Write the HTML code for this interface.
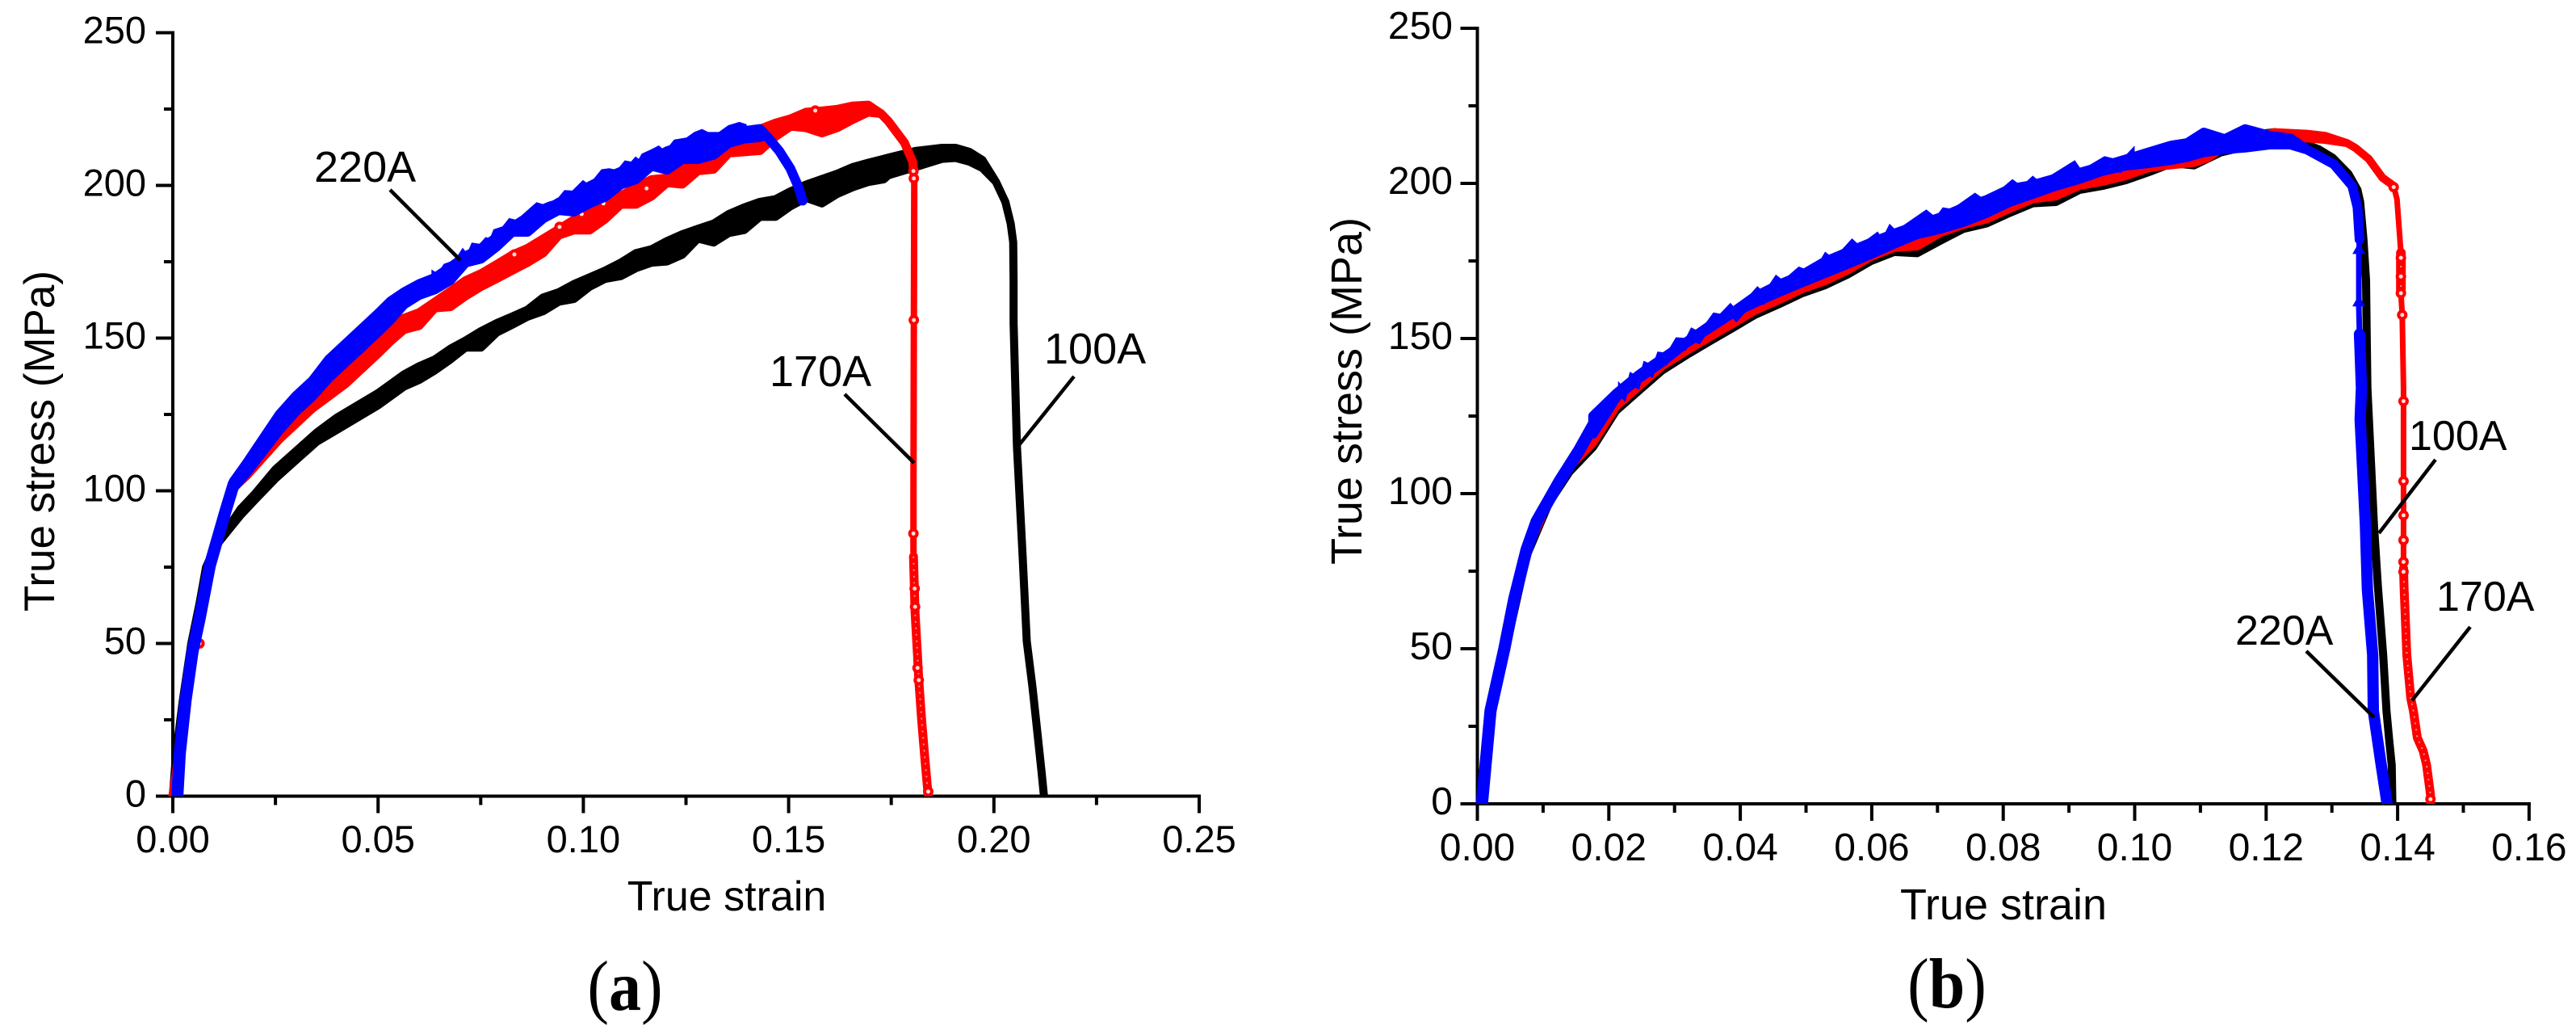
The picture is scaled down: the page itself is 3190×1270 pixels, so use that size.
<!DOCTYPE html>
<html lang="en">
<head>
<meta charset="utf-8">
<title>True stress vs true strain</title>
<style>
html,body{margin:0;padding:0;background:#fff;width:3190px;height:1270px;overflow:hidden}
svg{display:block}
text{font-family:"Liberation Sans",Arial,sans-serif;fill:#000}
.cap{font-family:"Liberation Serif","Times New Roman",serif;font-size:80px}
.lead{stroke:#000;stroke-width:4.5;fill:none}
</style>
</head>
<body>
<svg id="chart" width="3190" height="1270" viewBox="0 0 3190 1270" xmlns="http://www.w3.org/2000/svg">
  <defs>
    <clipPath id="clipA"><rect x="208" y="20" width="1290" height="965.5"/></clipPath>
    <clipPath id="clipB"><rect x="1824" y="15" width="1320" height="980"/></clipPath>
  </defs>
  <g id="axesA"></g>
  <g id="axesB"></g>
  <g id="plotA" clip-path="url(#clipA)"></g>
  <g id="plotB" clip-path="url(#clipB)"></g>

  <g>
    <text x="389" y="225" font-size="54">220A</text>
    <line class="lead" x1="483" y1="235" x2="570" y2="322"/>
    <text x="953" y="478" font-size="54">170A</text>
    <line class="lead" x1="1046" y1="488" x2="1132" y2="573"/>
    <text x="1293" y="450" font-size="54">100A</text>
    <line class="lead" x1="1330" y1="466" x2="1261" y2="552"/>
    <text x="900" y="1127" font-size="52" text-anchor="middle">True strain</text>
    <text x="0" y="0" font-size="53" text-anchor="middle" transform="translate(67 546) rotate(-90)">True stress (MPa)</text>
    <text class="cap" x="0" y="0" text-anchor="middle" transform="translate(774 1250) scale(1 1.1)">(<tspan font-weight="bold">a</tspan>)</text>
  </g>
  <g>
    <text x="2983" y="557" font-size="52">100A</text>
    <line class="lead" x1="3016" y1="569" x2="2946" y2="660"/>
    <text x="3017" y="756" font-size="52">170A</text>
    <line class="lead" x1="3059" y1="776" x2="2987" y2="867"/>
    <text x="2768" y="798" font-size="52">220A</text>
    <line class="lead" x1="2856" y1="806" x2="2940" y2="888"/>
    <text x="2481" y="1138" font-size="54" text-anchor="middle">True strain</text>
    <text x="0" y="0" font-size="54" text-anchor="middle" transform="translate(1686 484) rotate(-90)">True stress (MPa)</text>
    <text class="cap" x="0" y="0" text-anchor="middle" transform="translate(2411 1247) scale(1 1.1)">(<tspan font-weight="bold">b</tspan>)</text>
  </g>
</svg>
<script>
// ---------- tick labels ----------
const aXTicks = ["0.00","0.05","0.10","0.15","0.20","0.25"];
const bXTicks = ["0.00","0.02","0.04","0.06","0.08","0.10","0.12","0.14","0.16"];
const yTicks = ["0","50","100","150","200","250"];

// ---------- panel (a) 100A ----------
const aStrain100 = [0,.0008,.0024,.0045,.0065,.0081,.0105,.0135,.0165,.02,.025,.03,.035,.04,.045,.05,.0563,.06,.0638,.0676,.0713,.0751,.0789,.0827,.0864,.0902,.094,.0977,.1015,.1053,.1091,.1128,.1166,.1204,.1241,.1279,.1317,.1354,.1392,.143,.1468,.1505,.1543,.1581,.1618,.1656,.1694,.1732,.1743,.1809,.1874,.1907,.194,.1972,.2005,.2028,.2041,.2047,.2048,.2048,.2056,.207,.208,.2094,.2106,.2116,.2122];
const aHigh100 = [0,14,31,50,63,75,82,88,94,99,107,113,119,124,128,132,138.1,140.8,143,146.5,149.2,152.3,154.9,157.1,159.3,163.3,165,167.7,169.9,172.1,174.7,177.8,179.1,181.8,184,185.8,187.5,190.6,192.8,194.6,195.5,198.1,200.3,202.1,203.8,206,207.4,208.7,209.1,211.3,212.3,212.3,211,208.3,201.2,194.6,187.5,181.4,168.1,154.9,114.8,78.5,50.7,35.7,20.7,8,0];
const aLow100 = [0,14,31,50,63,75,82,87,92,97,104,110,116,120,124,128,134.1,136.3,139.4,143,146.9,146.9,151.8,154.4,157,158.8,161.9,162.8,166.8,169.4,170.3,172.9,174.7,175.1,177.3,182.6,181.3,184.4,185.4,189.7,189.7,193.2,195.9,194.1,197.2,199.4,201.1,202,203.3,206,208.7,209,207.8,205.7,201.2,194.6,187.5,181.4,168.1,154.9,114.8,78.5,50.7,35.7,20.7,8,0];

// ---------- panel (a) 170A ----------
const aStrain170 = [0,.0015,.0031,.0048,.0065,.009,.0128,.0148,.018,.022,.026,.03,.034,.038,.042,.046,.05,.053,.0563,.06,.0638,.0676,.0713,.0751,.0789,.0827,.0864,.0902,.094,.0977,.1015,.1053,.1091,.1128,.1166,.1204,.1241,.1279,.1317,.1354,.1392,.143,.1468,.1505,.1543,.1581,.1618,.1656,.1694,.1725,.1743,.1782,.1802,.1805];
const aHigh170 = [0,14,31,47,58,75.5,93,101,107,114,120,125,131,135,140,145,149,153,156.5,158.3,161.8,165.3,168.8,171.1,174.1,177.2,179.4,182.5,185.6,188.7,191.8,194.4,196.6,199.3,201.9,202.4,205.4,207.2,207.7,213,216,218.4,220.4,221.8,224,224.4,224.9,226,226.3,223.5,221,214,207.8,204.4];
const aLow170 = [0,14,31,47,58,75.5,93,101,105,111,117,122,127,131,135,140,145,149,152.8,154.1,159.9,160.3,163.8,166.9,169.5,172.2,174.8,177.9,183.7,185.4,185.4,189,193.8,193.8,196.5,200.9,200.4,204.8,205.3,210.6,211,211.4,216,219.4,218.9,217.2,218.9,221.6,224,223.5,221,214,207.8,204.4];
const aThinStrain170 = [.1805,.1806,.1805,.1804,.1804];
const aThinStress170 = [204.4,201,155.8,100,80];
const aDenseStrain170 = [.1804,.1808,.1814,.1817,.1824,.1832,.184];
const aDenseStress170 = [78.5,60,46,38,25,12,0];
const aMarkStrain170 = [.0065,.0832,.0942,.0996,.1049,.1154,.1565,.1804,.1805,.1805,.1804,.1807,.1808,.1814,.1817,.184];
const aMarkStress170 = [50,177.4,186.4,190.6,194.1,199,224.5,204.7,202.3,155.9,86,68,62,42,38,1.5];

// ---------- panel (a) 220A ----------
const aEarlyStrain220 = [.0011,.0017,.0031,.0048,.0065,.009,.0128,.0148];
const aEarlyStress220 = [0,13.9,31.4,47.3,57.9,75.5,93.2,102];
const aStrain220 = [.0148,.018,.022,.026,.03,.034,.038,.042,.046,.05,.053,.0563,.06,.0638,.0676,.0713,.0751,.0789,.0827,.0864,.0902,.094,.0977,.1015,.1053,.1091,.1128,.1166,.1204,.1241,.1279,.1317,.1354,.1392,.143,.1444,.1477,.1504,.1523,.1534];
const aHigh220 = [103,109,117,125,131,136,143,148,153,158,162,165,167.7,169.7,173.2,176.8,179.4,182.9,185.6,189.5,191.3,194.4,196.2,199.7,202.3,204.5,206.7,208.5,211.2,212.9,215.1,214.7,216.4,217.8,218.5,216.6,211.3,205.6,199.8,195];
const aLow220 = [101,106,113,120,126,131,137,142,147,152,156,161,164.1,165.9,169,174.7,176,180,184.8,184.8,189.2,191.9,191.4,194.1,196.3,200.3,202,206.4,205.1,208.6,208.6,210,213.9,215.3,215.8,216.6,211.3,205.6,199.8,195];
const aTeethStrain220 = [.063,.0645,.066,.0687,.0706,.0717,.0728,.0747,.0762,.0772,.0781,.0803,.0819,.0834,.0849,.0868,.0886,.0901,.0916,.0935,.0954,.0973,.0999,.1014,.1044,.1063,.1082,.1101,.1116,.1127,.1135,.1142,.1165,.1184,.1199,.1221,.1251,.127,.1289,.1304,.133,.1353,.138,.1398];
const aTeethStress220 = [172.5,171.2,174.3,175.6,179.6,177.8,181.3,180.9,183.1,182.6,185.6,186.6,189.3,188.8,190.1,192.4,194.5,193.9,194.7,195.4,198.5,198.3,201.8,200.3,205.3,205.6,205.1,208.2,207.8,209.5,208.7,210.4,211.8,213.1,211.3,215,215.7,217.5,218.5,217.5,217.5,219.7,220.8,220];

// ---------- panel (b) 100A ----------
const bStrain100 = [.0008,.002,.0041,.0075,.0109,.014,.0176,.0211,.0246,.0281,.0317,.0352,.0387,.0422,.0458,.0493,.0528,.0563,.0598,.0634,.0669,.0704,.0739,.0775,.081,.0845,.088,.0916,.0951,.0986,.1021,.1057,.109,.1131,.1172,.1213,.128,.1301,.1325,.1339,.1343,.1348,.1352,.1353,.1354,.1364,.137,.1378,.1383,.1387,.1391,.1392];
const bHigh100 = [0,28,48,80,97,107,118.5,130.2,136.7,143.2,148,152.4,156.7,161.1,164.5,168,170.6,174.1,178.4,181.4,181,185,188.8,190.6,194,197.1,197.5,201.4,202.7,204.5,207.1,210,209.3,213.5,215.5,216.5,211,208.3,203.1,197.9,194,181.9,168.8,151.5,134,90,70,48,30,21,12.5,0];
const bLow100 = [0,28,48,80,97,107,115,126.7,133.2,139.7,144.5,148.9,153.2,157.6,161,164.5,167.1,170.6,174.9,177.9,177.5,181.5,185.3,187.1,190.5,193.6,194,197.9,199.2,201,203.6,206.5,205.8,210,212,213,211,208.3,203.1,197.9,194,181.9,168.8,151.5,134,90,70,48,30,21,12.5,0];

// ---------- panel (b) 170A ----------
const bStrain170 = [.0005,.002,.0041,.0075,.0109,.014,.0176,.0211,.0246,.0281,.0317,.0352,.0387,.0422,.0458,.0493,.0528,.0563,.0598,.0634,.0669,.0704,.0739,.0775,.081,.0845,.088,.0916,.0951,.0986,.1021,.1049,.109,.111,.1131,.1172,.1213,.1262,.129,.1323,.1336,.1356,.1377,.1394];
const bHigh170 = [0,30,50,81,98,110,118,129.5,136,142.5,147.3,151.7,156,160.4,163.8,167.3,169.9,173.4,177.7,180.7,181.2,185.5,188.1,189.9,193.3,196.4,197.3,200.7,202,203.8,206.4,207.2,208.1,209.5,212.5,214.5,216.5,216,215.3,213,211.4,207.9,201.8,199.2];
const bLow170 = [0,30,50,81,98,108.5,116.3,128,134.5,141,145.8,150.2,154.5,158.9,162.3,165.8,168.4,171.9,176.2,179.2,179.7,184,186.6,188.4,191.8,194.9,195.8,199.2,200.5,202.3,204.9,205.7,206.6,208,211,212.8,213.5,214.5,214,213,211.4,207.9,201.8,199.2];
const bThinStrain170a = [.1394,.1399,.1405];
const bThinStress170a = [199.2,194.9,177.6];
const bDenseStrain170a = [.1405,.1405];
const bDenseStress170a = [177.6,164.6];
const bThinStrain170b = [.1405,.1407,.1409,.1409];
const bThinStress170b = [164.6,157.6,134,76];
const bDenseStrain170b = [.1409,.141,.1414,.142,.1424,.143,.1439,.1444,.145,.145];
const bDenseStress170b = [76,69,48,34,30,21.3,17,12.6,3,0];
const bMarkStrain170 = [.1394,.1405,.1405,.1405,.1407,.1409,.1409,.1409,.1409,.1409,.1409,.145];
const bMarkStress170 = [198.8,176,170,164.6,157.6,129.8,104,93,85,78,74.8,1.5];

// ---------- panel (b) 220A ----------
const bEarlyStrain220 = [.0007,.002,.0041,.0056,.0075,.009,.0109,.0125,.014,.0155,.0176];
const bEarlyStress220 = [0,30,50,66,82,91,98,104,109,114,122];
const bStrain220 = [.0176,.0211,.0246,.0281,.0317,.0352,.0387,.0422,.0458,.0493,.0528,.0563,.0598,.0634,.0669,.0704,.0739,.0775,.081,.0845,.088,.0916,.0951,.0986,.1021,.1055,.108,.1105,.1137,.1168,.1205,.1237,.1262,.1303,.1331,.1339,.1342];
const bHigh220 = [125,132.2,138.3,143.5,148.7,153.9,158.2,163.5,167.3,170.4,174.7,177.8,180.8,183.8,186.4,189,192.1,194.7,198.2,199.5,201.6,203.4,205.5,207.7,210,212.2,213,216.4,214.3,217.5,215.4,214.5,210.9,206.2,199.2,192.3,181.9];
const bLow220 = [119.3,131,137.2,142.4,148.4,153.2,158,161.5,164.9,168,171,174,177.1,180.5,183.6,185.3,187.5,190.5,194,196.6,199.2,201.4,204,205.7,206.5,207.5,208.5,210,211,211.5,212.5,212.5,210.9,206.2,199.2,192.3,181.9];
const bTeethStrain220 = [.0214,.0225,.0232,.0246,.0253,.0267,.0274,.0288,.0302,.0317,.0325,.0338,.0359,.0369,.0385,.0394,.0426,.0436,.0454,.0465,.0489,.05,.051,.0517,.0529,.0542,.057,.0581,.0609,.0616,.0627,.0637,.0683,.0697,.0708,.0722,.0757,.0775,.0814,.0828,.0845,.0856,.0909,.0919,.0954,.0979,.1];
const bTeethStress220 = [136.3,133.7,139.3,137.6,142.8,141.5,145.8,145.4,150.4,150.2,153.6,152.3,158.4,158,161.5,159.3,166.9,164.9,170.6,168.8,173.2,172.3,174,173.6,178,175.8,182.3,180.1,184.5,182.3,187,184.9,191.6,189.2,192.3,191.8,197,194.4,201.4,199.2,202.5,200.5,207.5,204.4,208.8,207.5,212.2];
const bThinStrain220 = [.1342,.1341,.1341,.1342];
const bThinStress220 = [181.9,178,160,151.4];
const bLowerStrain220 = [.1342,.1345,.1343,.1351,.1354,.1362,.1363,.1375,.1384];
const bLowerStress220 = [151.4,134,124,90,69,48,30,12.5,0];
const bTriStrain220 = [.1341,.1341];
const bTriStress220 = [178.8,161.9];

// ---------- axis functions ----------
const xA = s => 214 + s * 5084;
const yA = v => 985.5 - v * 3.78;
const xB = s => 1829.5 + s * 8140;
const yB = v => 995 - v * 3.84;

const NS = 'http://www.w3.org/2000/svg';

function drawAxes(host, xf, yf, xLabels, xStep, yMax, fontSize, yLabelX, xLabelY, name) {
  const xMax = (xLabels.length - 1) * xStep;
  const line = (x1, y1, x2, y2, nm) => {
    const l = document.createElementNS(NS, 'line');
    l.setAttribute('x1', x1); l.setAttribute('y1', y1);
    l.setAttribute('x2', x2); l.setAttribute('y2', y2);
    l.setAttribute('stroke', '#000');
    l.setAttribute('stroke-width', 4);
    l.setAttribute('stroke-linecap', 'square');
    
    
    host.appendChild(l);
  };
  line(xf(0), yf(0), xf(xMax), yf(0), name + '-x-axis-line');
  line(xf(0), yf(0), xf(0), yf(yMax), name + '-y-axis-line');
  const x0 = xf(0), y0 = yf(0);
  xLabels.forEach((lab, i) => {
    const px = xf(i * xStep);
    line(px, y0, px, y0 + 19, name + '-x-tick-major');
    if (i < xLabels.length - 1) {
      const mx = xf((i + 0.5) * xStep);
      line(mx, y0, mx, y0 + 9, name + '-x-tick-minor');
    }
    const t = document.createElementNS(NS, 'text');
    t.textContent = lab;
    t.setAttribute('x', px);
    t.setAttribute('y', xLabelY);
    t.setAttribute('font-size', fontSize);
    t.setAttribute('text-anchor', 'middle');
    
    
    host.appendChild(t);
  });
  yTicks.forEach((lab, i) => {
    const v = Number(lab);
    const py = yf(v);
    line(x0 - 19, py, x0, py, name + '-y-tick-major');
    if (i < yTicks.length - 1) {
      const my = yf(v + 25);
      line(x0 - 9, my, x0, my, name + '-y-tick-minor');
    }
    const t = document.createElementNS(NS, 'text');
    t.textContent = lab;
    t.setAttribute('x', yLabelX);
    t.setAttribute('y', py + 13);
    t.setAttribute('font-size', fontSize);
    t.setAttribute('text-anchor', 'end');
    
    
    host.appendChild(t);
  });
}

function drawBand(host, xf, yf, strain, high, low, color, width, name, pink) {
  const up = strain.map((s, i) => xf(s).toFixed(1) + ' ' + yf(high[i]).toFixed(1));
  const dn = strain.map((s, i) => xf(s).toFixed(1) + ' ' + yf(low[i]).toFixed(1)).reverse();
  const p = document.createElementNS(NS, 'path');
  p.setAttribute('d', 'M' + up.concat(dn).join('L') + 'Z');
  p.setAttribute('fill', color);
  p.setAttribute('stroke', color);
  p.setAttribute('stroke-width', width);
  p.setAttribute('stroke-linejoin', 'round');
  
  
  host.appendChild(p);
  if (pink) {
    const q = document.createElementNS(NS, 'path');
    q.setAttribute('d', 'M' + up.join('L'));
    q.setAttribute('fill', 'none');
    q.setAttribute('stroke', '#ff8a8a');
    q.setAttribute('stroke-width', 2);
    q.setAttribute('stroke-dasharray', '2 6');
    
    
    host.appendChild(q);
  }
}

// Sawtooth upper edge: a thin filled strip hanging from the read-off edge values.
function drawTeeth(host, xf, yf, strain, stress, color, name) {
  const up = strain.map((s, i) => xf(s).toFixed(1) + ' ' + yf(stress[i]).toFixed(1));
  const dn = strain.map((s, i) => xf(s).toFixed(1) + ' ' + (yf(stress[i]) + 16).toFixed(1)).reverse();
  const p = document.createElementNS(NS, 'path');
  p.setAttribute('d', 'M' + up.concat(dn).join('L') + 'Z');
  p.setAttribute('fill', color);
  
  
  host.appendChild(p);
}

function drawMarkers(host, xf, yf, strain, stress, name) {
  strain.forEach((s, i) => {
    const c = document.createElementNS(NS, 'circle');
    c.setAttribute('cx', xf(s));
    c.setAttribute('cy', yf(stress[i]));
    c.setAttribute('r', 6.5);
    c.setAttribute('fill', '#f00');
    
    
    host.appendChild(c);
    const d = document.createElementNS(NS, 'circle');
    d.setAttribute('cx', xf(s));
    d.setAttribute('cy', yf(stress[i]));
    d.setAttribute('r', 2.5);
    d.setAttribute('fill', '#ffdcdc');
    
    
    host.appendChild(d);
  });
}

function drawTriangles(host, xf, yf, strain, stress, color, name) {
  strain.forEach((s, i) => {
    const x = xf(s), y = yf(stress[i]);
    const t = document.createElementNS(NS, 'polygon');
    t.setAttribute('points', (x - 8) + ',' + (y + 6) + ' ' + x + ',' + (y - 8) + ' ' + (x + 8) + ',' + (y + 6));
    t.setAttribute('fill', color);
    
    
    host.appendChild(t);
  });
}

const axesA = document.getElementById('axesA');
const axesB = document.getElementById('axesB');
const plotA = document.getElementById('plotA');
const plotB = document.getElementById('plotB');

drawAxes(axesA, xA, yA, aXTicks, 0.05, 250, 47, 181, 1055, 'panel-a');
drawAxes(axesB, xB, yB, bXTicks, 0.02, 250, 48, 1799, 1065, 'panel-b');

// panel (a): draw order black, red, blue
drawBand(plotA, xA, yA, aStrain100, aHigh100, aLow100, '#000', 10, 'series-100a-a');
drawBand(plotA, xA, yA, aStrain170, aHigh170, aLow170, '#f00', 11, 'series-170a-a');
drawBand(plotA, xA, yA, aThinStrain170, aThinStress170, aThinStress170, '#f00', 8, 'series-170a-a-vertical');
drawBand(plotA, xA, yA, aDenseStrain170, aDenseStress170, aDenseStress170, '#f00', 11, 'series-170a-a-tail', true);
drawMarkers(plotA, xA, yA, aMarkStrain170, aMarkStress170, 'series-170a-a-marker');
drawBand(plotA, xA, yA, aEarlyStrain220, aEarlyStress220, aEarlyStress220, '#00f', 15, 'series-220a-a-elastic');
drawBand(plotA, xA, yA, aStrain220, aHigh220, aLow220, '#00f', 12, 'series-220a-a');
drawTeeth(plotA, xA, yA, aTeethStrain220, aTeethStress220, '#00f', 'series-220a-a-sawtooth');

// panel (b): draw order black, red, blue
drawBand(plotB, xB, yB, bStrain100, bHigh100, bLow100, '#000', 10, 'series-100a-b');
drawBand(plotB, xB, yB, bStrain170, bHigh170, bLow170, '#f00', 10, 'series-170a-b');
drawBand(plotB, xB, yB, bThinStrain170a, bThinStress170a, bThinStress170a, '#f00', 7, 'series-170a-b-neck');
drawBand(plotB, xB, yB, bDenseStrain170a, bDenseStress170a, bDenseStress170a, '#f00', 12, 'series-170a-b-dense', true);
drawBand(plotB, xB, yB, bThinStrain170b, bThinStress170b, bThinStress170b, '#f00', 7, 'series-170a-b-vertical');
drawBand(plotB, xB, yB, bDenseStrain170b, bDenseStress170b, bDenseStress170b, '#f00', 11, 'series-170a-b-tail', true);
drawMarkers(plotB, xB, yB, bMarkStrain170, bMarkStress170, 'series-170a-b-marker');
drawBand(plotB, xB, yB, bEarlyStrain220, bEarlyStress220, bEarlyStress220, '#00f', 15, 'series-220a-b-elastic');
drawBand(plotB, xB, yB, bStrain220, bHigh220, bLow220, '#00f', 12, 'series-220a-b');
drawTeeth(plotB, xB, yB, bTeethStrain220, bTeethStress220, '#00f', 'series-220a-b-sawtooth');
drawBand(plotB, xB, yB, bThinStrain220, bThinStress220, bThinStress220, '#00f', 7, 'series-220a-b-vertical');
drawBand(plotB, xB, yB, bLowerStrain220, bLowerStress220, bLowerStress220, '#00f', 14, 'series-220a-b-tail');
drawTriangles(plotB, xB, yB, bTriStrain220, bTriStress220, '#00f', 'series-220a-b-marker');
</script>
</body>
</html>
